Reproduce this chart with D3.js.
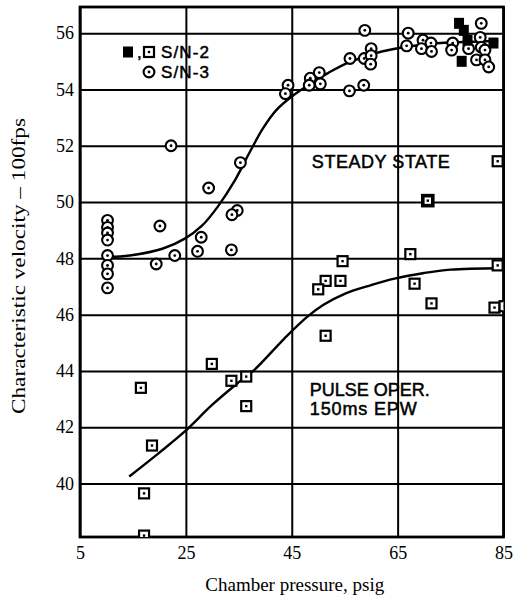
<!DOCTYPE html>
<html>
<head>
<meta charset="utf-8">
<script src="https://cdn.jsdelivr.net/npm/d3@7/dist/d3.min.js"></script>
<style>
  html, body { margin: 0; padding: 0; background: #fff; }
  svg { display: block; }
</style>
</head>
<body>
<svg id="chart" width="514" height="598"></svg>
<script>
// ---------- data ----------
const xTicks = [5, 25, 45, 65, 85];
const yTicks = [40, 42, 44, 46, 48, 50, 52, 54, 56];
const xLabel = "Chamber pressure, psig";
const yLabel = "Characteristic velocity \u2013 100fps";

// S/N-3 steady state (circles) [pressure, velocity]
const sn3Steady = [
  [10.2, 49.35], [10.2, 49.1], [10.2, 48.9], [10.2, 48.65], [10.2, 48.1],
  [10.2, 47.75], [10.2, 47.45], [10.2, 46.95],
  [22.2, 52.0], [35.3, 51.4], [29.3, 50.5], [34.7, 49.7], [33.7, 49.55],
  [20.1, 49.15], [27.9, 48.75], [27.2, 48.25], [33.6, 48.3], [22.9, 48.1], [19.4, 47.8],
  [44.3, 54.15], [43.8, 53.85], [48.5, 54.4], [50.2, 54.6], [50.4, 54.2], [48.3, 54.15],
  [55.9, 53.95], [58.6, 54.15], [56.0, 55.1], [58.7, 55.1], [60.0, 55.45], [60.0, 55.2],
  [59.9, 54.9], [58.8, 56.1],
  [67.0, 56.0], [66.7, 55.55], [69.8, 55.75], [69.5, 55.45], [71.3, 55.65], [71.4, 55.35],
  [75.4, 55.65], [75.2, 55.4], [78.4, 55.45], [80.8, 56.35], [80.6, 55.85], [80.8, 55.5],
  [81.5, 55.4], [79.9, 55.05], [81.5, 55.05], [82.2, 54.8]
];
// S/N-2 steady state (filled squares)
const sn2Steady = [[76.6, 56.35], [77.5, 56.1], [77.1, 55.0], [83.1, 55.65], [78.2, 55.75]];
// S/N-2 pulse operation (open squares)
const sn2Pulse = [
  [83.9, 51.45], [70.7, 50.05], [67.4, 48.15], [54.6, 47.9], [83.9, 47.75],
  [51.4, 47.2], [50.0, 46.9], [54.2, 47.2], [68.2, 47.1], [71.4, 46.4],
  [83.3, 46.25], [85.2, 46.3], [51.4, 45.25], [16.5, 43.4], [29.9, 44.25],
  [33.6, 43.65], [36.4, 43.8], [36.4, 42.75], [18.6, 41.35], [17.1, 39.65], [17.1, 38.15]
];
// faired curves
const steadyCurve = [
  [10.2, 48.05], [14.4, 48.1], [20.7, 48.35], [24.8, 48.7], [28.0, 49.15], [31.0, 49.83],
  [34.2, 50.75], [37.0, 51.75], [39.5, 52.6], [42.0, 53.25], [45.0, 53.75], [48.5, 54.2],
  [52.0, 54.6], [56.0, 54.98], [62.0, 55.35], [70.0, 55.6], [84.0, 55.72]
];
const pulseCurve = [
  [14.3, 40.25], [20.0, 41.1], [24.8, 41.85], [30.0, 42.8], [35.0, 43.6], [38.0, 44.05],
  [43.6, 45.15], [47.9, 45.92], [51.0, 46.35], [55.1, 46.75], [60.0, 47.05], [64.4, 47.28],
  [70.0, 47.48], [75.0, 47.6], [84.5, 47.65]
];
const legendItems = ["S/N-2", "S/N-3"];
const annotations = [
  { text: "STEADY STATE", x: 48.8, y: 51.2, len: 138 },
  { text: "PULSE OPER.", x: 48.4, y: 43.1, len: 120 },
  { text: "150ms EPW", x: 48.4, y: 42.45, len: 107 }
];

// ---------- layout ----------
const svg = d3.select("#chart");
const pL = 80, pR = 503.5, pT = 7, pB = 537;
const x = d3.scaleLinear().domain([5, 85]).range([pL, pR]);
const y = d3.scaleLinear().domain([38.1, 56.93]).range([pB, pT]);
const serif = "'Liberation Serif', 'Times New Roman', serif";
const sans = "'Liberation Sans', Arial, sans-serif";

svg.append("defs").append("clipPath").attr("id", "clip")
  .append("rect").attr("x", pL).attr("y", pT).attr("width", pR - pL).attr("height", pB - pT);

// grid via axes
const gx = svg.append("g").attr("transform", `translate(0,${pB})`)
  .call(d3.axisBottom(x).tickValues(xTicks).tickSize(-(pB - pT)).tickPadding(9).tickFormat(d3.format("d")));
gx.select(".domain").remove();
gx.selectAll("line").attr("stroke", "#000").attr("stroke-width", 2);
gx.selectAll("text").attr("font-family", serif).attr("font-size", 18).attr("fill", "#000");

const gy = svg.append("g").attr("transform", `translate(${pL},0)`)
  .call(d3.axisLeft(y).tickValues(yTicks).tickSize(-(pR - pL)).tickPadding(6).tickFormat(d3.format("d")));
gy.select(".domain").remove();
gy.selectAll("line").attr("stroke", "#000").attr("stroke-width", 2);
gy.selectAll("text").attr("font-family", serif).attr("font-size", 18).attr("fill", "#000");

// frame
svg.append("rect").attr("x", pL).attr("y", pT).attr("width", pR - pL).attr("height", pB - pT)
  .attr("fill", "none").attr("stroke", "#000").attr("stroke-width", 2.8);

// axis titles
svg.append("text").attr("x", (pL + pR) / 2 + 3).attr("y", 591)
  .attr("text-anchor", "middle").attr("font-family", serif).attr("font-size", 19).text(xLabel);
svg.append("text").attr("transform", "translate(25,266) rotate(-90)")
  .attr("text-anchor", "middle").attr("font-family", serif).attr("font-size", 19)
  .attr("textLength", 296).attr("lengthAdjust", "spacingAndGlyphs").text(yLabel);

// curves
const line = d3.line().x(d => x(d[0])).y(d => y(d[1])).curve(d3.curveCatmullRom.alpha(0.5));
const plot = svg.append("g").attr("clip-path", "url(#clip)");
[steadyCurve, pulseCurve].forEach(c => {
  plot.append("path").datum(c).attr("d", line).attr("fill", "none")
    .attr("stroke", "#000").attr("stroke-width", 2.4);
});

// markers
function drawCircle(g, cx, cy) {
  g.append("circle").attr("cx", cx).attr("cy", cy).attr("r", 5.4)
    .attr("fill", "#fff").attr("stroke", "#000").attr("stroke-width", 2.1);
  g.append("circle").attr("cx", cx).attr("cy", cy).attr("r", 1.4).attr("fill", "#000");
}
function drawSquare(g, cx, cy, sw) {
  g.append("rect").attr("x", cx - 5).attr("y", cy - 5).attr("width", 10).attr("height", 10)
    .attr("fill", "#fff").attr("stroke", "#000").attr("stroke-width", sw || 2.2);
  g.append("rect").attr("x", cx - 1.2).attr("y", cy - 1.2).attr("width", 2.4).attr("height", 2.4).attr("fill", "#000");
}
function drawFilled(g, cx, cy) {
  g.append("rect").attr("x", cx - 5).attr("y", cy - 5.5).attr("width", 10).attr("height", 11).attr("fill", "#000");
}
sn3Steady.forEach(d => drawCircle(plot, x(d[0]), y(d[1])));
sn2Steady.forEach(d => drawFilled(plot, x(d[0]), y(d[1])));
sn2Pulse.forEach((d, i) => drawSquare(plot, x(d[0]), y(d[1]), i === 1 ? 3.6 : 2.2));

// legend
const lg = svg.append("g");
drawFilled(lg, 128, 52);
lg.append("text").attr("x", 137).attr("y", 58).attr("font-family", sans).attr("font-size", 17)
  .attr("stroke", "#000").attr("stroke-width", 0.5).text(",");
drawSquare(lg, 149, 52, 2.2);
drawCircle(lg, 149, 72);
legendItems.forEach((t, i) => {
  lg.append("text").attr("x", 161).attr("y", 58 + i * 20).attr("font-family", sans)
    .attr("font-size", 17).attr("stroke", "#000").attr("stroke-width", 0.5)
    .attr("textLength", 48).attr("lengthAdjust", "spacing").text(t);
});

// annotations
annotations.forEach(a => {
  svg.append("text").attr("x", x(a.x)).attr("y", y(a.y)).attr("font-family", sans)
    .attr("font-size", 18).attr("stroke", "#000").attr("stroke-width", 0.5)
    .attr("textLength", a.len).attr("lengthAdjust", "spacing").text(a.text);
});
</script>
</body>
</html>
